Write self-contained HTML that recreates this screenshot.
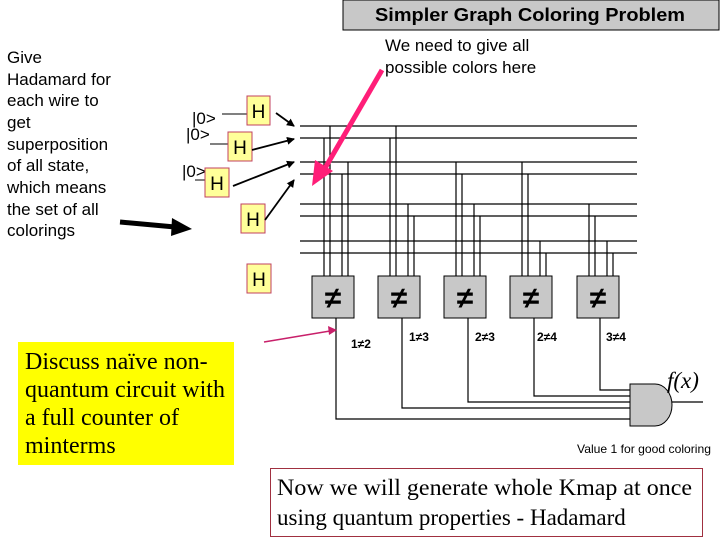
<!DOCTYPE html>
<html><head><style>body{margin:0;background:#fff}svg{display:block}</style></head><body>
<svg width="720" height="540" viewBox="0 0 720 540" xmlns="http://www.w3.org/2000/svg" font-family="Liberation Sans, sans-serif">
<defs>
<marker id="ab" markerWidth="8" markerHeight="8" refX="7" refY="4" orient="auto" markerUnits="userSpaceOnUse"><path d="M0,0 L8,4 L0,8z" fill="#000"/></marker>
</defs>
<rect x="343" y="0" width="376" height="30" fill="#c8c8c8" stroke="#000"/>
<text x="530" y="21" font-size="18" font-weight="600" text-anchor="middle" textLength="310" lengthAdjust="spacingAndGlyphs">Simpler Graph Coloring Problem</text>
<text font-size="17"><tspan x="385" y="51">We need to give all</tspan><tspan x="385" y="73">possible colors here</tspan></text>
<text font-size="17"><tspan x="7" y="63">Give</tspan><tspan x="7" y="85">Hadamard for</tspan><tspan x="7" y="106">each wire to</tspan><tspan x="7" y="128">get</tspan><tspan x="7" y="150">superposition</tspan><tspan x="7" y="171">of all state,</tspan><tspan x="7" y="193">which means</tspan><tspan x="7" y="215">the set of all</tspan><tspan x="7" y="236">colorings</tspan></text>
<line x1="120" y1="222" x2="175" y2="227" stroke="#000" stroke-width="5"/>
<path d="M172,218 L192,229 L171,236z" fill="#000"/>
<text font-size="17"><tspan x="192" y="124">|0&gt;</tspan><tspan x="186" y="140">|0&gt;</tspan><tspan x="182" y="177">|0&gt;</tspan></text>
<g stroke="#000"><line x1="222" y1="114" x2="247" y2="114"/><line x1="210" y1="144" x2="228" y2="144"/><line x1="195" y1="180" x2="205" y2="180"/></g>
<g fill="#ffff99" stroke="#c04060"><rect x="247" y="96" width="23" height="29"/><rect x="228" y="132" width="24" height="29"/><rect x="205" y="168" width="24" height="29"/><rect x="241" y="204" width="24" height="29"/><rect x="247" y="264" width="24" height="29"/></g>
<g font-size="19" text-anchor="middle"><text x="258.5" y="118">H</text><text x="240" y="154">H</text><text x="217" y="190">H</text><text x="253" y="226">H</text><text x="259" y="286">H</text></g>
<g stroke="#000" stroke-width="1.8" marker-end="url(#ab)"><line x1="276" y1="113" x2="294" y2="126"/><line x1="252" y1="150" x2="294" y2="139"/><line x1="233" y1="186" x2="294" y2="162"/><line x1="265" y1="220" x2="294" y2="180"/></g>
<g stroke="#000" stroke-width="1.2" fill="none">
<path d="M300,126H637M300,138H637M300,162H637M300,174H637M300,204H637M300,216H637M300,241H637M300,253H637"/>
<path d="M324,138V276M330,126V276M342,174V276M348,162V276"/>
<path d="M390,138V276M396,126V276M408,204V276M414,216V276"/>
<path d="M456,162V276M462,174V276M474,204V276M480,216V276"/>
<path d="M522,162V276M528,174V276M540,241V276M546,253V276"/>
<path d="M589,204V276M595,216V276M607,241V276M613,253V276"/>
<path d="M336,318V419H630M402,318V408H630M468,318V402H630M534,318V396H630M600,318V390H630M672,402H703"/>
</g>
<g fill="#c8c8c8" stroke="#000"><rect x="312" y="276" width="42" height="42"/><rect x="378" y="276" width="42" height="42"/><rect x="444" y="276" width="42" height="42"/><rect x="510" y="276" width="42" height="42"/><rect x="577" y="276" width="42" height="42"/></g>
<g font-size="30" font-weight="bold" text-anchor="middle"><text x="333" y="308">≠</text><text x="399" y="308">≠</text><text x="465" y="308">≠</text><text x="531" y="308">≠</text><text x="598" y="308">≠</text></g>
<g font-size="12" font-weight="bold"><text x="351" y="348">1≠2</text><text x="409" y="341">1≠3</text><text x="475" y="341">2≠3</text><text x="537" y="341">2≠4</text><text x="606" y="341">3≠4</text></g>
<path d="M630,384H655A17,21 0 0 1 655,426H630Z" fill="#c8c8c8" stroke="#000"/>
<text x="667" y="388" font-family="Liberation Serif, serif" font-style="italic" font-size="23">f(x)</text>
<text x="577" y="453" font-size="12" textLength="134" lengthAdjust="spacingAndGlyphs">Value 1 for good coloring</text>
<line x1="382" y1="70" x2="324" y2="170" stroke="#ff1e78" stroke-width="5"/>
<path d="M312,186 L315,160 L333,171z" fill="#ff1e78"/>
<line x1="264" y1="342" x2="330" y2="331" stroke="#c8206a" stroke-width="1.5"/>
<path d="M337,330 L328,326 L329,335z" fill="#c8206a"/>
<rect x="18" y="342" width="216" height="123" fill="#ffff00"/>
<text font-family="Liberation Serif, serif" font-size="24"><tspan x="25" y="369">Discuss naïve non-</tspan><tspan x="25" y="397">quantum circuit with</tspan><tspan x="25" y="425">a full counter of</tspan><tspan x="25" y="453">minterms</tspan></text>
<rect x="270.5" y="468.5" width="432" height="68" fill="#fff" stroke="#a03040"/>
<text font-family="Liberation Serif, serif" font-size="23"><tspan x="277" y="495" textLength="415" lengthAdjust="spacingAndGlyphs">Now we will generate whole Kmap at once</tspan><tspan x="277" y="525">using quantum properties - Hadamard</tspan></text>
</svg>
</body></html>
